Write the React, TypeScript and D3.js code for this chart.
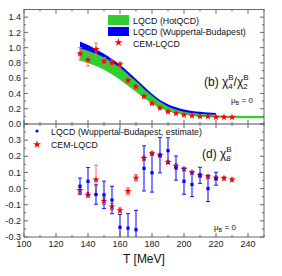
import * as d3 from "d3";

// top panel: chi4/chi2
const bandT = [135, 140, 145, 150, 155, 160, 165, 170, 175, 180, 185, 190, 195, 200, 205, 210, 215, 220, 225, 230, 240, 250];
const hotLow = [0.83, 0.80, 0.76, 0.71, 0.65, 0.58, 0.50, 0.42, 0.34, 0.27, 0.21, 0.17, 0.14, 0.12, 0.105, 0.095, 0.09, 0.085, 0.08, 0.078, 0.075, 0.075];
const hotHigh = [0.99, 0.96, 0.92, 0.87, 0.81, 0.74, 0.65, 0.56, 0.46, 0.37, 0.29, 0.23, 0.19, 0.16, 0.14, 0.13, 0.12, 0.115, 0.11, 0.107, 0.105, 0.105];
const wbT = [135, 140, 145, 150, 155, 160, 165, 170, 175, 180, 185, 190, 195, 200, 205, 210, 215, 220];
const wbLow = [0.90, 0.87, 0.83, 0.78, 0.72, 0.65, 0.57, 0.48, 0.40, 0.31, 0.25, 0.20, 0.17, 0.15, 0.14, 0.13, 0.12, 0.12];
const wbHigh = [1.08, 1.035, 0.98, 0.92, 0.85, 0.775, 0.685, 0.59, 0.49, 0.395, 0.315, 0.26, 0.22, 0.19, 0.17, 0.16, 0.15, 0.145];

const cemT = [135, 140, 145, 150, 155, 160, 165, 170, 175, 180, 185, 190, 195, 200, 205, 210, 215, 220, 225, 230];
const cem42 = [0.92, 0.84, 0.98, 0.82, 0.80, 0.78, 0.57, 0.49, 0.36, 0.27, 0.21, 0.16, 0.14, 0.12, 0.11, 0.10, 0.10, 0.09, 0.09, 0.09];
const cem42Err = [0.08, 0.08, 0.08, 0.05, 0.04, 0.03, 0.02, 0.02, 0.015, 0.01, 0.01, 0.01, 0.01, 0.01, 0.01, 0.01, 0.01, 0.01, 0.01, 0.01];

// bottom panel: chi8
const chi8T = [135, 140, 145, 150, 155, 160, 165, 170, 175, 180, 185, 190, 195, 200, 205, 210, 215, 220];
const chi8Wb = [0.015, 0.045, -0.037, -0.039, -0.071, -0.24, -0.245, -0.255, 0.125, 0.098, 0.207, 0.235, 0.127, 0.045, 0.025, 0.082, 0.0, 0.061];
const chi8WbErr = [0.05, 0.085, 0.06, 0.085, 0.085, 0.08, 0.09, 0.12, 0.14, 0.12, 0.11, 0.08, 0.075, 0.08, 0.075, 0.05, 0.08, 0.04];
const cem8 = [-0.01, -0.04, 0.055, -0.077, -0.112, -0.135, -0.016, 0.066, 0.188, 0.218, 0.206, 0.164, 0.141, 0.121, 0.1, 0.082, 0.074, 0.066, 0.064, 0.055];
const cem8Err = [0.02, 0.015, 0.09, 0.02, 0.02, 0.015, 0.02, 0.02, 0.012, 0.01, 0.01, 0.01, 0.01, 0.01, 0.01, 0.01, 0.01, 0.01, 0.01, 0.01];

const xTicks = [100, 120, 140, 160, 180, 200, 220, 240];
const topTicks = [0, 0.2, 0.4, 0.6, 0.8, 1.0, 1.2, 1.4];
const botTicks = [-0.3, -0.2, -0.1, 0, 0.1, 0.2, 0.3];

const L = 24, R = 264, T0 = 9.5, MID = 124, B = 237;
const FONT = "Liberation Sans, Arial, sans-serif";

export default function App() {
  const x = d3.scaleLinear().domain([100, 250]).range([L, R]);
  const yT = d3.scaleLinear().domain([0, 1.5]).range([MID, T0]);
  const yB = d3.scaleLinear().domain([-0.3, 0.4]).range([B, MID]);

  const hotArea = d3.area<number>().x((_, i) => x(bandT[i])).y0((_, i) => yT(hotLow[i])).y1((_, i) => yT(hotHigh[i])).curve(d3.curveMonotoneX);
  const wbArea = d3.area<number>().x((_, i) => x(wbT[i])).y0((_, i) => yT(wbLow[i])).y1((_, i) => yT(wbHigh[i])).curve(d3.curveMonotoneX);
  const star = d3.symbol(d3.symbolStar, 16)()!;
  const starLeg = d3.symbol(d3.symbolStar, 20)()!;

  const minorX = d3.range(100, 251, 10);
  const minorTop = d3.range(0, 1.51, 0.1);
  const minorBot = d3.range(-0.3, 0.41, 0.05);

  const frame = "#666";
  const errRed = "#f66";

  return (
    <svg width={282} height={276} style={{ position: "absolute", left: 0, top: 0, background: "#fff" }} fontFamily={FONT}>
      <defs>
        <clipPath id="clipTop"><rect x={L} y={T0} width={R - L} height={MID - T0} /></clipPath>
        <clipPath id="clipBot"><rect x={L} y={MID} width={R - L} height={B - MID} /></clipPath>
      </defs>

      {/* top panel data */}
      <g clipPath="url(#clipTop)">
        <path d={wbArea(wbLow)!} fill="#0000ff" />
        <path d={hotArea(hotLow)!} fill="#33cc33" />
        {cemT.map((t, i) => (
          <g key={i}>
            <line x1={x(t)} x2={x(t)} y1={yT(cem42[i] - cem42Err[i])} y2={yT(cem42[i] + cem42Err[i])} stroke={errRed} strokeWidth={1} />
            <line x1={x(t) - 2} x2={x(t) + 2} y1={yT(cem42[i] - cem42Err[i])} y2={yT(cem42[i] - cem42Err[i])} stroke={errRed} />
            <line x1={x(t) - 2} x2={x(t) + 2} y1={yT(cem42[i] + cem42Err[i])} y2={yT(cem42[i] + cem42Err[i])} stroke={errRed} />
            <path d={star} transform={`translate(${x(t)},${yT(cem42[i])})`} fill="#ff0000" />
          </g>
        ))}
      </g>

      {/* bottom panel data */}
      <g clipPath="url(#clipBot)">
        {cemT.map((t, i) => (
          <g key={i}>
            <line x1={x(t)} x2={x(t)} y1={yB(cem8[i] - cem8Err[i])} y2={yB(cem8[i] + cem8Err[i])} stroke={errRed} />
            <line x1={x(t) - 2} x2={x(t) + 2} y1={yB(cem8[i] - cem8Err[i])} y2={yB(cem8[i] - cem8Err[i])} stroke={errRed} />
            <line x1={x(t) - 2} x2={x(t) + 2} y1={yB(cem8[i] + cem8Err[i])} y2={yB(cem8[i] + cem8Err[i])} stroke={errRed} />
            <path d={star} transform={`translate(${x(t)},${yB(cem8[i])})`} fill="#ff0000" />
          </g>
        ))}
        {chi8T.map((t, i) => (
          <g key={i}>
            <line x1={x(t)} x2={x(t)} y1={yB(chi8Wb[i] - chi8WbErr[i])} y2={yB(chi8Wb[i] + chi8WbErr[i])} stroke="#1a1aee" strokeWidth={1.1} />
            <line x1={x(t) - 2} x2={x(t) + 2} y1={yB(chi8Wb[i] - chi8WbErr[i])} y2={yB(chi8Wb[i] - chi8WbErr[i])} stroke="#1a1aee" />
            <line x1={x(t) - 2} x2={x(t) + 2} y1={yB(chi8Wb[i] + chi8WbErr[i])} y2={yB(chi8Wb[i] + chi8WbErr[i])} stroke="#1a1aee" />
            <rect x={x(t) - 1.6} y={yB(chi8Wb[i]) - 1.6} width={3.2} height={3.2} fill="#0000ff" />
          </g>
        ))}
      </g>

      {/* frames */}
      <rect x={L} y={T0} width={R - L} height={B - T0} fill="none" stroke={frame} strokeWidth={1} />
      <line x1={L} x2={R} y1={MID} y2={MID} stroke="#888" strokeWidth={1.5} />

      {/* x ticks on every horizontal edge */}
      {[T0, MID, B].map((yy, k) => (
        <g key={k} stroke={frame}>
          {minorX.map((v) => {
            const major = v % 20 === 0;
            const len = major ? 4 : 2;
            return (
              <g key={v}>
                {k > 0 && <line x1={x(v)} x2={x(v)} y1={yy} y2={yy - len} />}
                {k < 2 && <line x1={x(v)} x2={x(v)} y1={yy} y2={yy + len} />}
              </g>
            );
          })}
        </g>
      ))}

      {/* y ticks */}
      <g stroke={frame}>
        {minorTop.map((v, i) => {
          const len = i % 2 === 0 ? 4 : 2;
          return (
            <g key={i}>
              <line x1={L} x2={L + len} y1={yT(v)} y2={yT(v)} />
              <line x1={R} x2={R - len} y1={yT(v)} y2={yT(v)} />
            </g>
          );
        })}
        {minorBot.map((v, i) => {
          const len = i % 2 === 0 ? 4 : 2;
          return (
            <g key={i}>
              <line x1={L} x2={L + len} y1={yB(v)} y2={yB(v)} />
              <line x1={R} x2={R - len} y1={yB(v)} y2={yB(v)} />
            </g>
          );
        })}
      </g>

      {/* tick labels */}
      <g fontSize={9} fill="#222" textAnchor="end">
        {topTicks.map((v) => (
          <text key={v} x={L - 3} y={yT(v)} dy="0.35em">{d3.format(".1f")(v)}</text>
        ))}
        {botTicks.map((v) => (
          <text key={v} x={L - 3} y={yB(v)} dy="0.35em">{d3.format(".1f")(v).replace("−", "-")}</text>
        ))}
      </g>
      <g fontSize={9} fill="#222" textAnchor="middle">
        {xTicks.map((v) => (
          <text key={v} x={x(v)} y={B + 10}>{v}</text>
        ))}
      </g>
      <text x={144} y={263} fontSize={12} textAnchor="middle" fill="#111">T [MeV]</text>

      {/* top legend */}
      <rect x={108} y={15} width={21} height={10} fill="#33cc33" />
      <rect x={108} y={27} width={21} height={9} fill="#0000ff" />
      <path d={starLeg} transform="translate(118.5,42.5)" fill="#ff0000" />
      <g fontSize={8.8} fill="#111">
        <text x={133} y={23.5}>LQCD (HotQCD)</text>
        <text x={133} y={35}>LQCD (Wuppertal-Budapest)</text>
        <text x={133} y={46.5}>CEM-LQCD</text>
      </g>
      <text x={204} y={86} fontSize={12} fill="#111">
        (b) χ<tspan fontSize={8} dy={3}>4</tspan><tspan fontSize={8} dx={-4.5} dy={-9}>B</tspan>
        <tspan dy={6}>/χ</tspan><tspan fontSize={8} dy={3}>2</tspan><tspan fontSize={8} dx={-4.5} dy={-9}>B</tspan>
      </text>
      <text x={231} y={103} fontSize={8} fill="#111">μ<tspan fontSize={5.5} dy={2}>B</tspan><tspan dy={-2}> = 0</tspan></text>

      {/* bottom legend */}
      <circle cx={37} cy={131} r={1.6} fill="#0000ff" />
      <path d={starLeg} transform="translate(37,144.5)" fill="#ff0000" />
      <g fontSize={8.8} fill="#111">
        <text x={51} y={134.5}>LQCD (Wuppertal-Budapest, estimate)</text>
        <text x={51} y={148}>CEM-LQCD</text>
      </g>
      <text x={202} y={158} fontSize={12} fill="#111">
        (d) χ<tspan fontSize={8} dy={3}>8</tspan><tspan fontSize={8} dx={-4.5} dy={-9}>B</tspan>
      </text>
      <text x={214} y={230} fontSize={8} fill="#111">μ<tspan fontSize={5.5} dy={2}>B</tspan><tspan dy={-2}> = 0</tspan></text>
    </svg>
  );
}
